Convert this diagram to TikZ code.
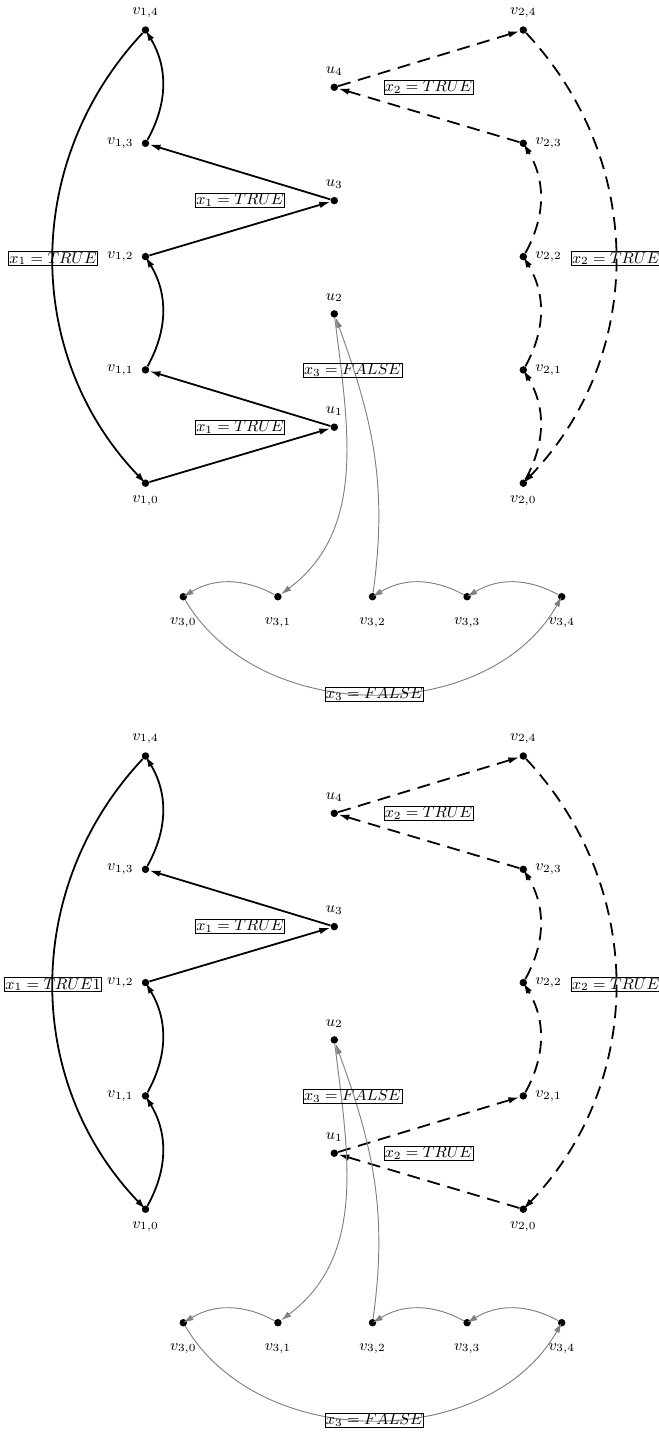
\RequirePackage{fix-cm}
\documentclass[tikz,border=0pt]{standalone}
\usetikzlibrary{arrows.meta}
\newcommand\txtsize{\fontsize{9.2}{11}\selectfont}
\tikzset{
  vtx/.style={circle, fill=black, inner sep=0pt, minimum size=4.4pt},
  lbl/.style={draw=black, text=black, solid, inner sep=0.5pt, line width=0.4pt, font=\txtsize},
  blk/.style={line width=1.05pt, -{Latex[length=6.5pt,width=3.8pt]}},
  dsh/.style={blk, dash pattern=on 7.6pt off 4.6pt},
  gry/.style={gray, line width=0.55pt, -{Latex[length=6pt,width=3.6pt]}},
  every label/.style={inner sep=2pt, font=\txtsize},
  label distance=2.5pt,
}
\newcommand\mynodes{%
  \foreach \k/\pp in {0/below,1/left,2/left,3/left,4/above}{
    \node[vtx,label=\pp:{$v_{1,\k}$}] (v1\k) at (145.5,{-30-113.3*(4-\k)}) {};
  }
  \foreach \k/\pp in {0/below,1/right,2/right,3/right,4/above}{
    \node[vtx,label=\pp:{$v_{2,\k}$}] (v2\k) at (523.3,{-30-113.3*(4-\k)}) {};
  }
  \foreach \j in {1,2,3,4}{
    \node[vtx,label=above:{$u_{\j}$}] (u\j) at (334.3,{-87.3-113.3*(4-\j)}) {};
  }
  \foreach \k in {0,1,2,3,4}{
    \node[vtx,label={[label distance=7.5pt]below:{$v_{3,\k}$}}] (v3\k) at ({183.3+94.6*\k},-596.7) {};
  }
}
\newcommand\groupthree{%
  \draw[gry] (v31) to[bend right] (v30);
  \draw[gry] (v33) to[bend right] (v32);
  \draw[gry] (v34) to[bend right] (v33);
  \draw[gry] (v30) to[bend right=60] node[lbl] (g3lbl) {$x_3 = FALSE$} (v34);
  \draw[gry] (v32) to[out=82,in=-70] (u2);
  \draw[gry] (u2) to[out=-83,in=37] (v31);
  \node[lbl] (g3mid) at (352.5,-370.5) {$x_3 = FALSE$};
}
\begin{document}
\begin{tikzpicture}[x=0.5882pt,y=0.5882pt]
\useasboundingbox (0,0) rectangle (658,-1432);
% ---------------- top diagram ----------------
\begin{scope}[name prefix=a-]
  \mynodes
  % variable x1
  \draw[blk] (v13) to[bend right] (v14);
  \draw[blk] (v11) to[bend right] (v12);
  \draw[blk] (v12) -- (u3);
  \draw[blk] (u3) -- (v13);
  \draw[blk] (v10) -- (u1);
  \draw[blk] (u1) -- (v11);
  \draw[blk] (v14) to[bend right=43.5] node[lbl] (l1) {$x_1 = TRUE$} (v10);
  \node[lbl] (l2) at (240,-200.5) {$x_1 = TRUE$};
  \node[lbl] (l3) at (240,-427.3) {$x_1 = TRUE$};
  % variable x2
  \draw[dsh] (v20) to[bend right] (v21);
  \draw[dsh] (v21) to[bend right] (v22);
  \draw[dsh] (v22) to[bend right] (v23);
  \draw[dsh] (v23) -- (u4);
  \draw[dsh] (u4) -- (v24);
  \draw[dsh] (v24) to[bend left=43.5] node[lbl] (l4) {$x_2 = TRUE$} (v20);
  \node[lbl] (l5) at (428.5,-87.3) {$x_2 = TRUE$};
  % variable x3
  \groupthree
\end{scope}
% ---------------- bottom diagram ----------------
\begin{scope}[shift={(0,-726)}, name prefix=b-]
  \mynodes
  % variable x1
  \draw[blk] (v10) to[bend right] (v11);
  \draw[blk] (v11) to[bend right] (v12);
  \draw[blk] (v13) to[bend right] (v14);
  \draw[blk] (v12) -- (u3);
  \draw[blk] (u3) -- (v13);
  \draw[blk] (v14) to[bend right=43.5] node[lbl] (l1) {$x_1 = TRUE1$} (v10);
  \node[lbl] (l2) at (240,-200.5) {$x_1 = TRUE$};
  % variable x2
  \draw[dsh] (v20) -- (u1);
  \draw[dsh] (u1) -- (v21);
  \draw[dsh] (v21) to[bend right] (v22);
  \draw[dsh] (v22) to[bend right] (v23);
  \draw[dsh] (v23) -- (u4);
  \draw[dsh] (u4) -- (v24);
  \draw[dsh] (v24) to[bend left=43.5] node[lbl] (l4) {$x_2 = TRUE$} (v20);
  \node[lbl] (l5) at (428.5,-87.3) {$x_2 = TRUE$};
  \node[lbl] (l6) at (428.5,-427.3) {$x_2 = TRUE$};
  % variable x3
  \groupthree
\end{scope}
\end{tikzpicture}
\end{document}
